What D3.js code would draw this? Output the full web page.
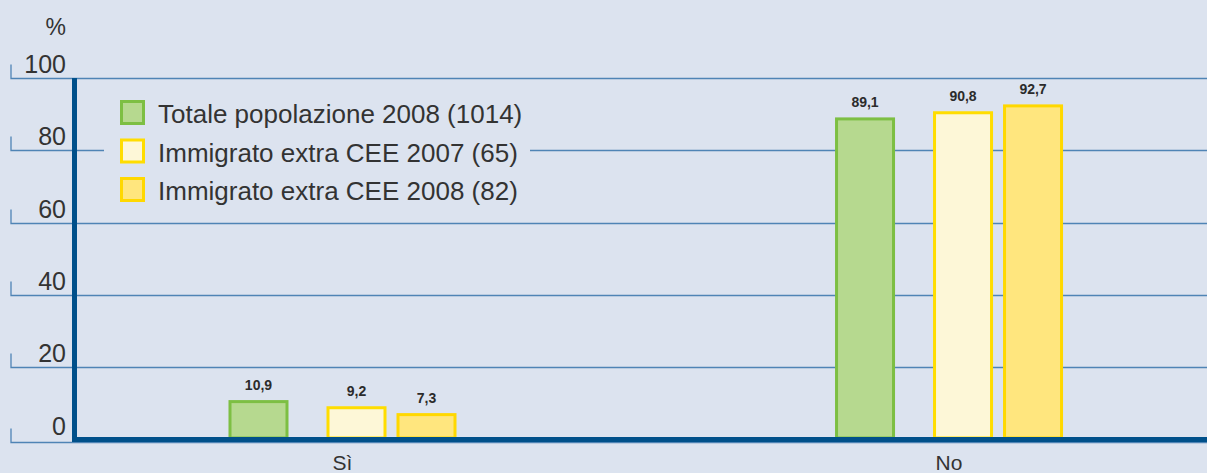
<!DOCTYPE html>
<html>
<head>
<meta charset="utf-8">
<script src="https://cdn.jsdelivr.net/npm/d3@7"></script>
<style>
  body { margin: 0; background: #dce3ef; }
  svg { display: block; font-family: "Liberation Sans", Arial, sans-serif; }
</style>
</head>
<body>
<div id="chart"></div>
<script>
// data
var categories = ["Sì", "No"];
var seriesNames = ["Totale popolazione 2008 (1014)", "Immigrato extra CEE 2007 (65)", "Immigrato extra CEE 2008 (82)"];
var totale2008 = [10.9, 89.1];
var immigrato2007 = [9.2, 90.8];
var immigrato2008 = [7.3, 92.7];
var yTicks = [0, 20, 40, 60, 80, 100];

var seriesValues = [totale2008, immigrato2007, immigrato2008];
var fills = ["#b6d98f", "#fdf7d7", "#ffe67e"];
var strokes = ["#7dbf43", "#ffdd00", "#ffd800"];

var W = 1207, H = 473;
var margin = { top: 78, left: 74, bottom: 33 };
var gridColor = "#4f84b5";
var axisColor = "#00508a";

var svg = d3.select("#chart").append("svg")
    .attr("width", W)
    .attr("height", H);

svg.append("rect").attr("width", W).attr("height", H).attr("fill", "#dce3ef");

var y = d3.scaleLinear()
    .domain([0, 100])
    .range([H - margin.bottom - 0.5, margin.top]);

var x = d3.scalePoint()
    .domain(categories)
    .range([margin.left, W])
    .padding(0.434)
    .align(0.51);

// offsets of each series inside a group (left edge relative to group center)
var x1 = d3.scaleOrdinal().domain(seriesNames).range([-114, -16, 54]);
var barW = 60;

// gridlines with little left ticks
svg.append("g").selectAll("path.grid")
    .data(yTicks)
    .enter().append("path")
    .attr("class", "grid")
    .attr("fill", "none")
    .attr("stroke", gridColor)
    .attr("stroke-width", 1.3)
    .attr("d", function(d) {
        var yy = Math.round(y(d)) + 0.5 + (d === 0 ? 2 : 0);
        return "M11," + (yy - 14) + "V" + yy + "H" + W;
    });

svg.append("g").selectAll("text.ylab")
    .data(yTicks)
    .enter().append("text")
    .attr("class", "ylab")
    .attr("x", 66)
    .attr("y", function(d) { return y(d) - 5; })
    .attr("text-anchor", "end")
    .attr("font-size", 25)
    .attr("fill", "#333")
    .text(function(d) { return d; });

svg.append("text")
    .attr("x", 66).attr("y", 35)
    .attr("text-anchor", "end")
    .attr("font-size", 23)
    .attr("fill", "#333")
    .text("%");

// legend box hides the gridline behind it
svg.append("rect")
    .attr("x", 104).attr("y", 90)
    .attr("width", 426).attr("height", 120)
    .attr("fill", "#dce3ef");

// bars
var groups = svg.append("g").selectAll("g.cat")
    .data(categories)
    .enter().append("g")
    .attr("class", "cat")
    .attr("transform", function(d) { return "translate(" + x(d) + ",0)"; });

groups.selectAll("rect")
    .data(function(c, ci) {
        return seriesNames.map(function(s, si) { return { s: s, si: si, v: seriesValues[si][ci] }; });
    })
    .enter().append("rect")
    .attr("x", function(d) { return x1(d.s) + 1.5; })
    .attr("width", barW - 3)
    .attr("y", function(d) { return y(d.v) + 1.5; })
    .attr("height", function(d) { return y(0) - y(d.v) - 3; })
    .attr("fill", function(d) { return fills[d.si]; })
    .attr("stroke", function(d) { return strokes[d.si]; })
    .attr("stroke-width", 3);

groups.selectAll("text")
    .data(function(c, ci) {
        return seriesNames.map(function(s, si) { return { s: s, si: si, v: seriesValues[si][ci] }; });
    })
    .enter().append("text")
    .attr("x", function(d) { return x1(d.s) + barW / 2; })
    .attr("y", function(d) { return y(d.v) - 10; })
    .attr("text-anchor", "middle")
    .attr("font-size", 14)
    .attr("font-weight", "bold")
    .attr("fill", "#2b2b2b")
    .text(function(d) { return d3.format(".1f")(d.v).replace(".", ","); });

// axes lines
svg.append("line")
    .attr("x1", 74.5).attr("x2", 74.5)
    .attr("y1", y(100)).attr("y2", y(0) + 2.5)
    .attr("stroke", axisColor).attr("stroke-width", 5);

svg.append("line")
    .attr("x1", 72).attr("x2", W)
    .attr("y1", y(0)).attr("y2", y(0))
    .attr("stroke", axisColor).attr("stroke-width", 5);

// category labels
svg.append("g").selectAll("text.xlab")
    .data(categories)
    .enter().append("text")
    .attr("class", "xlab")
    .attr("x", function(d) { return x(d); })
    .attr("y", 470)
    .attr("text-anchor", "middle")
    .attr("font-size", 21)
    .attr("fill", "#333")
    .text(function(d) { return d; });

// legend
var legend = svg.append("g").selectAll("g.leg")
    .data(seriesNames)
    .enter().append("g")
    .attr("class", "leg")
    .attr("transform", function(d, i) { return "translate(120," + (100 + i * 38.5) + ")"; });

legend.append("rect")
    .attr("x", 1.5).attr("y", 1.5)
    .attr("width", 22).attr("height", 22)
    .attr("fill", function(d, i) { return fills[i]; })
    .attr("stroke", function(d, i) { return strokes[i]; })
    .attr("stroke-width", 3);

legend.append("text")
    .attr("x", 38).attr("y", 23)
    .attr("font-size", 26)
    .attr("fill", "#333")
    .text(function(d) { return d; });
</script>
</body>
</html>
